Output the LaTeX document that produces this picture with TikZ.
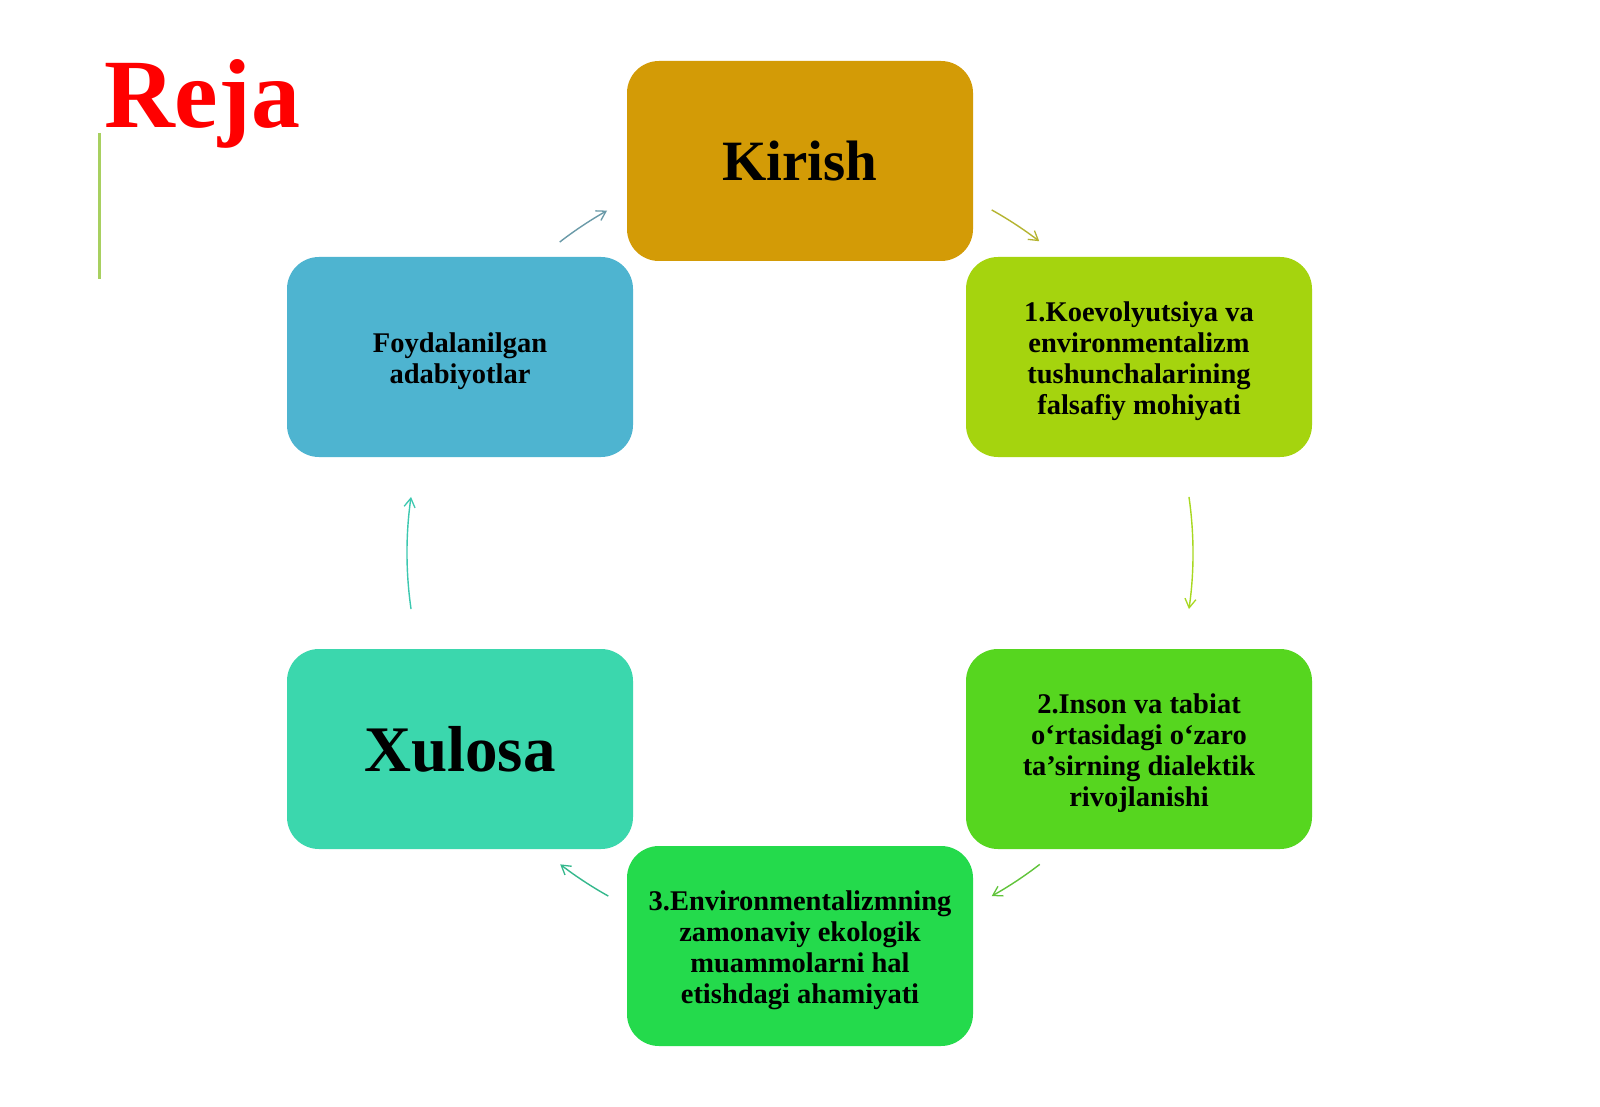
\documentclass[tikz,border=0pt]{standalone}
\usepackage{fontspec}
\setmainfont{Liberation Serif}
\usetikzlibrary{arrows.meta,calc}
\definecolor{cKirish}{HTML}{D39B06}
\definecolor{cOne}{HTML}{A5D40E}
\definecolor{cTwo}{HTML}{56D61F}
\definecolor{cThree}{HTML}{24DA4C}
\definecolor{cXulosa}{HTML}{3BD7AD}
\definecolor{cFoyd}{HTML}{4EB4D0}
\definecolor{cReja}{HTML}{FF0000}
\definecolor{cBar}{HTML}{A8D060}
\definecolor{aOne}{HTML}{6A9AA8}
\definecolor{aTwo}{HTML}{B5B430}
\definecolor{aThree}{HTML}{A8D820}
\definecolor{aFour}{HTML}{60C43A}
\definecolor{aFive}{HTML}{34B88C}
\definecolor{aSix}{HTML}{3CC8B0}
\tikzset{
  card/.style={rounded corners=32pt, minimum width=346pt, minimum height=200pt,
    inner sep=0pt},
  cardtext/.style={inner sep=0pt, align=center, text=black, yshift=-4pt,
    font=\bfseries\fontsize{28.5}{31}\selectfont},
  bigtext/.style={inner sep=0pt, align=center, text=black},
  cyc/.style={line width=1.4pt, -{Straight Barb[length=9pt,width=11pt,line width=1.3pt]}},
}
\begin{document}
\begin{tikzpicture}[x=1pt,y=-1pt]
\useasboundingbox[fill=white] (0,0) rectangle (1600,1107);
% title
\node[anchor=base west, inner sep=0pt, text=cReja, font=\bfseries\fontsize{98}{100}\selectfont] (reja) at (104,128) {Reja};
\coordinate (barT) at (99,133);
\coordinate (barB) at (99,279);
\draw[cBar, line width=3pt] (barT) -- (barB);
% boxes
\node[card, fill=cKirish] (kirish) at (800,161) {};
\node[card, fill=cOne] (one) at (1139,357) {};
\node[card, fill=cTwo] (two) at (1139,749) {};
\node[card, fill=cThree] (three) at (800,946) {};
\node[card, fill=cXulosa] (xulosa) at (460,749) {};
\node[card, fill=cFoyd] (foyd) at (460,357) {};
% texts
\node[bigtext, font=\bfseries\fontsize{57}{62}\selectfont] (tkirish) at (kirish.center) {Kirish};
\node[cardtext] (tone) at (one.center) {1.Koevolyutsiya va\\environmentalizm\\tushunchalarining\\falsafiy mohiyati};
\node[cardtext] (ttwo) at (two.center) {2.Inson va tabiat\\o‘rtasidagi o‘zaro\\ta’sirning dialektik\\rivojlanishi};
\node[cardtext] (tthree) at (three.center) {3.Environmentalizmning\\zamonaviy ekologik\\muammolarni hal\\etishdagi ahamiyati};
\node[bigtext, font=\bfseries\fontsize{65}{70}\selectfont] (txulosa) at (xulosa.center) {Xulosa};
\node[cardtext] (tfoyd) at (foyd.center) {Foydalanilgan\\adabiyotlar};
% cycle arrows on circle
\coordinate (c) at (800,553);
\coordinate (s1) at ($(c)+(-127.7:393)$);
\coordinate (s2) at ($(c)+(-60.8:393)$);
\coordinate (s3) at ($(c)+(-8.2:393)$);
\coordinate (s4) at ($(c)+(52.4:393)$);
\coordinate (s5) at ($(c)+(119.2:393)$);
\coordinate (s6) at ($(c)+(171.8:393)$);
\draw[cyc, aOne] (s1) arc[start angle=-127.7, end angle=-119.4, radius=393];
\draw[cyc, aTwo] (s2) arc[start angle=-60.8, end angle=-52.5, radius=393];
\draw[cyc, aThree] (s3) arc[start angle=-8.2, end angle=8.2, radius=393];
\draw[cyc, aFour] (s4) arc[start angle=52.4, end angle=60.8, radius=393];
\draw[cyc, aFive] (s5) arc[start angle=119.2, end angle=127.6, radius=393];
\draw[cyc, aSix] (s6) arc[start angle=171.8, end angle=188.2, radius=393];
\end{tikzpicture}
\end{document}
